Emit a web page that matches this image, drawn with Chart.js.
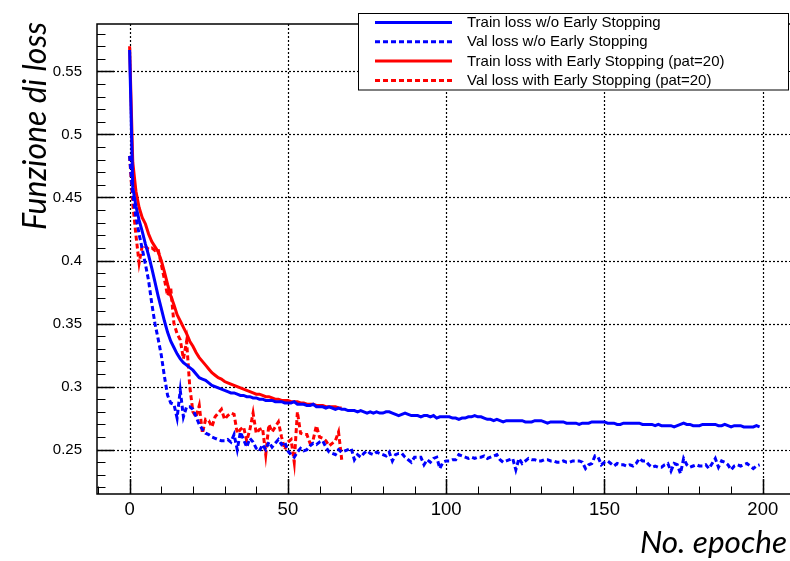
<!DOCTYPE html>
<html>
<head>
<meta charset="utf-8">
<script src="https://cdn.jsdelivr.net/npm/chart.js@4.4.1/dist/chart.umd.min.js"></script>
<style>
  html, body { margin: 0; padding: 0; background: #fff; }
</style>
</head>
<body>
<canvas id="chart1" width="790" height="561"></canvas>
<script>
// loss per epoch
const trainNoES = [
  0.567, 0.458, 0.443, 0.432, 0.423, 0.413, 0.404, 0.394, 0.383, 0.372,
  0.362, 0.352, 0.343, 0.336, 0.331, 0.326, 0.322, 0.319, 0.317, 0.315,
  0.313, 0.310, 0.307, 0.306, 0.305, 0.303, 0.301, 0.300, 0.299, 0.298,
  0.297, 0.296, 0.295, 0.295, 0.294, 0.293, 0.293, 0.292, 0.292, 0.291,
  0.291, 0.290, 0.290, 0.289, 0.289, 0.289, 0.288, 0.288, 0.288, 0.287,
  0.287, 0.287, 0.288, 0.286, 0.286, 0.286, 0.285, 0.285, 0.286, 0.284,
  0.284, 0.284, 0.283, 0.284, 0.283, 0.282, 0.283, 0.282, 0.282, 0.281,
  0.281, 0.281, 0.280, 0.281, 0.280, 0.279, 0.280, 0.279, 0.280, 0.279,
  0.279, 0.280, 0.280, 0.279, 0.278, 0.277, 0.278, 0.279, 0.278, 0.277,
  0.277, 0.277, 0.276, 0.277, 0.277, 0.276, 0.277, 0.275, 0.276, 0.276,
  0.276, 0.276, 0.275, 0.275, 0.274, 0.275, 0.275, 0.276, 0.276, 0.277,
  0.276, 0.276, 0.275, 0.274, 0.274, 0.273, 0.274, 0.273, 0.272, 0.273,
  0.273, 0.273, 0.273, 0.273, 0.273, 0.272, 0.272, 0.272, 0.273, 0.273,
  0.273, 0.272, 0.271, 0.272, 0.272, 0.272, 0.272, 0.272, 0.271, 0.271,
  0.271, 0.271, 0.270, 0.271, 0.271, 0.271, 0.272, 0.272, 0.272, 0.272,
  0.272, 0.271, 0.271, 0.271, 0.270, 0.270, 0.271, 0.271, 0.271, 0.271,
  0.271, 0.271, 0.270, 0.270, 0.270, 0.270, 0.269, 0.270, 0.269, 0.269,
  0.269, 0.269, 0.268, 0.269, 0.270, 0.271, 0.270, 0.270, 0.269, 0.269,
  0.269, 0.270, 0.270, 0.270, 0.270, 0.270, 0.269, 0.269, 0.270, 0.269,
  0.268, 0.269, 0.269, 0.269, 0.268, 0.268, 0.268, 0.268, 0.269, 0.268
];
const valNoES = [
  0.483, 0.452, 0.435, 0.421, 0.409, 0.397, 0.384, 0.366, 0.350, 0.338,
  0.325, 0.308, 0.293, 0.287, 0.286, 0.275, 0.297, 0.276, 0.284, 0.284,
  0.282, 0.276, 0.270, 0.266, 0.263, 0.262, 0.260, 0.259, 0.258, 0.257,
  0.257, 0.258, 0.256, 0.262, 0.250, 0.264, 0.258, 0.252, 0.259, 0.256,
  0.251, 0.249, 0.254, 0.250, 0.256, 0.252, 0.255, 0.258, 0.254, 0.256,
  0.249, 0.246, 0.244, 0.248, 0.251, 0.249, 0.250, 0.253, 0.255, 0.254,
  0.256, 0.257, 0.252, 0.248, 0.247, 0.246, 0.250, 0.248, 0.249, 0.250,
  0.251, 0.242, 0.246, 0.244, 0.247, 0.249, 0.247, 0.246, 0.248, 0.247,
  0.246, 0.245, 0.248, 0.241, 0.246, 0.247, 0.247, 0.244, 0.242, 0.240,
  0.244, 0.244, 0.244, 0.238, 0.242, 0.240, 0.243, 0.244, 0.235, 0.240,
  0.241, 0.241, 0.242, 0.242, 0.246, 0.245, 0.244, 0.243, 0.244, 0.243,
  0.244, 0.244, 0.245, 0.243, 0.244, 0.245, 0.246, 0.242, 0.240, 0.241,
  0.242, 0.243, 0.234, 0.243, 0.239, 0.241, 0.243, 0.242, 0.242, 0.241,
  0.241, 0.242, 0.242, 0.241, 0.241, 0.240, 0.240, 0.241, 0.240, 0.240,
  0.241, 0.241, 0.241, 0.240, 0.235, 0.238, 0.239, 0.245, 0.244, 0.238,
  0.240, 0.241, 0.239, 0.237, 0.239, 0.238, 0.238, 0.237, 0.238, 0.237,
  0.239, 0.243, 0.241, 0.241, 0.238, 0.236, 0.237, 0.236, 0.236, 0.238,
  0.239, 0.233, 0.239, 0.238, 0.231, 0.243, 0.238, 0.236, 0.237, 0.238,
  0.237, 0.237, 0.238, 0.235, 0.239, 0.243, 0.236, 0.241, 0.240, 0.238,
  0.234, 0.237, 0.238, 0.237, 0.238, 0.239, 0.237, 0.235, 0.237, 0.238
];
const trainES = [
  0.570, 0.478, 0.455, 0.442, 0.434, 0.429, 0.421, 0.415, 0.411, 0.407,
  0.400, 0.391, 0.381, 0.372, 0.365, 0.357, 0.352, 0.347, 0.342, 0.336,
  0.332, 0.327, 0.323, 0.320, 0.317, 0.314, 0.311, 0.309, 0.307, 0.306,
  0.304, 0.303, 0.302, 0.301, 0.300, 0.299, 0.298, 0.297, 0.296, 0.295,
  0.294, 0.294, 0.293, 0.292, 0.292, 0.291, 0.290, 0.290, 0.289, 0.289,
  0.289, 0.288, 0.288, 0.288, 0.287, 0.287, 0.286, 0.286, 0.286, 0.285,
  0.285, 0.285, 0.284, 0.284, 0.284, 0.284, 0.283, 0.283
];
const valES = [
  0.483, 0.445, 0.420, 0.398, 0.412, 0.411, 0.409, 0.410, 0.408, 0.409,
  0.397, 0.385, 0.372, 0.378, 0.350, 0.342, 0.337, 0.322, 0.336, 0.300,
  0.280, 0.276, 0.285, 0.263, 0.274, 0.273, 0.268, 0.276, 0.279, 0.282,
  0.274, 0.277, 0.279, 0.278, 0.263, 0.266, 0.268, 0.257, 0.266, 0.279,
  0.263, 0.266, 0.267, 0.246, 0.270, 0.264, 0.268, 0.272, 0.260, 0.250,
  0.256, 0.258, 0.240, 0.280, 0.263, 0.262, 0.262, 0.255, 0.258, 0.269,
  0.260, 0.259, 0.257, 0.253, 0.255, 0.257, 0.264, 0.242
];
const seriesNames = [
  "Train loss w/o Early Stopping",
  "Val loss w/o Early Stopping",
  "Train loss with Early Stopping (pat=20)",
  "Val loss with Early Stopping (pat=20)"
];
const xTicks = [0, 50, 100, 150, 200];
const yTicks = [0.25, 0.3, 0.35, 0.4, 0.45, 0.5, 0.55];
const xTitle = "No. epoche";
const yTitle = "Funzione di loss";

function toPoints(vals) {
  return vals.map((v, i) => ({ x: i, y: v }));
}

const dashed = [5, 3];

const framePlugin = {
  id: 'rootFrame',
  beforeDatasetsDraw(chart) {
    const { ctx, chartArea: a, scales: { x, y } } = chart;
    ctx.save();
    ctx.strokeStyle = '#000';
    ctx.lineWidth = 1.2;
    ctx.setLineDash([2, 2]);
    xTicks.forEach(v => {
      const px = Math.round(x.getPixelForValue(v)) + 0.5;
      ctx.beginPath(); ctx.moveTo(px, a.top); ctx.lineTo(px, a.bottom); ctx.stroke();
    });
    yTicks.forEach(v => {
      const py = Math.round(y.getPixelForValue(v)) + 0.5;
      ctx.beginPath(); ctx.moveTo(a.left, py); ctx.lineTo(a.right, py); ctx.stroke();
    });
    ctx.restore();
  },
  afterDatasetsDraw(chart) {
    const { ctx, chartArea: a, scales: { x, y } } = chart;
    ctx.save();
    ctx.strokeStyle = '#000';
    ctx.setLineDash([]);

    // ticks, drawn inward like ROOT
    for (let k = -1; k <= 21; k++) {
      const v = k * 10;
      if (v < x.min || v > x.max) continue;
      const px = Math.round(x.getPixelForValue(v)) + 0.5;
      const major = v % 50 === 0;
      ctx.lineWidth = major ? 1.5 : 1;
      ctx.beginPath(); ctx.moveTo(px, a.bottom); ctx.lineTo(px, a.bottom - (major ? 15 : 7.5)); ctx.stroke();
    }
    for (let k = 21; k <= 59; k++) {
      const v = k / 100;
      if (v < y.min || v > y.max) continue;
      const py = Math.round(y.getPixelForValue(v)) + 0.5;
      const major = k % 5 === 0;
      ctx.lineWidth = major ? 1.5 : 1;
      ctx.beginPath(); ctx.moveTo(a.left, py); ctx.lineTo(a.left + (major ? 17 : 8.5), py); ctx.stroke();
    }

    // frame
    ctx.lineWidth = 1.5;
    ctx.beginPath();
    ctx.moveTo(a.right, a.top); ctx.lineTo(a.left, a.top);
    ctx.lineTo(a.left, a.bottom); ctx.lineTo(a.right, a.bottom);
    ctx.stroke();

    // legend
    const lx = 358.5, ly = 13.5, lw = 430, lh = 76.5;
    ctx.fillStyle = '#fff';
    ctx.fillRect(lx, ly, lw, lh);
    ctx.lineWidth = 1;
    ctx.strokeRect(lx, ly, lw, lh);
    ctx.font = '15px "Liberation Sans", Arial, sans-serif';
    ctx.textBaseline = 'middle';
    ctx.textAlign = 'left';
    chart.data.datasets.forEach((ds, i) => {
      const ry = 22.5 + i * 19.3;
      ctx.strokeStyle = ds.borderColor;
      ctx.lineWidth = 3;
      ctx.setLineDash(ds.borderDash || []);
      ctx.beginPath(); ctx.moveTo(375, ry); ctx.lineTo(452, ry); ctx.stroke();
      ctx.fillStyle = '#000';
      ctx.fillText(ds.label, 467, ry + 0.5);
    });
    ctx.setLineDash([]);

    // axis titles
    ctx.fillStyle = '#000';
    ctx.font = 'italic 30px Lato, "Open Sans", sans-serif';
    let w = ctx.measureText(xTitle).width;
    let fs = 30 * 147 / w;
    ctx.font = 'italic ' + fs.toFixed(1) + 'px Lato, "Open Sans", sans-serif';
    ctx.textAlign = 'right';
    ctx.textBaseline = 'alphabetic';
    ctx.fillText(xTitle, 787, 553);

    ctx.font = 'italic 30px Lato, "Open Sans", sans-serif';
    w = ctx.measureText(yTitle).width;
    fs = 30 * 208 / w;
    ctx.font = 'italic ' + fs.toFixed(1) + 'px Lato, "Open Sans", sans-serif';
    ctx.translate(46, 22);
    ctx.rotate(-Math.PI / 2);
    ctx.textAlign = 'right';
    ctx.fillText(yTitle, 0, 0);
    ctx.restore();
  }
};

const chart = new Chart(document.getElementById('chart1'), {
  type: 'line',
  data: {
    datasets: [
      { label: seriesNames[0], data: toPoints(trainNoES), borderColor: '#0000ff', borderWidth: 3 },
      { label: seriesNames[1], data: toPoints(valNoES), borderColor: '#0000ff', borderWidth: 3, borderDash: dashed },
      { label: seriesNames[2], data: toPoints(trainES), borderColor: '#ff0000', borderWidth: 3 },
      { label: seriesNames[3], data: toPoints(valES), borderColor: '#ff0000', borderWidth: 3, borderDash: dashed }
    ]
  },
  options: {
    responsive: false,
    animation: false,
    events: [],
    layout: { padding: { top: 13, left: 0, right: 0, bottom: 0 } },
    elements: {
      point: { radius: 0 },
      line: { tension: 0, borderJoinStyle: 'miter', fill: false }
    },
    plugins: { legend: { display: false }, tooltip: { enabled: false } },
    scales: {
      x: {
        type: 'linear',
        min: -10.3,
        max: 208.6,
        grid: { display: false, drawTicks: false },
        border: { display: false },
        afterBuildTicks: s => { s.ticks = xTicks.map(v => ({ value: v })); },
        afterFit: s => { s.height = 67; },
        ticks: {
          color: '#000',
          padding: 5,
          maxRotation: 0,
          font: { family: '"Liberation Sans", Arial, sans-serif', size: 18.5 }
        }
      },
      y: {
        min: 0.2148,
        max: 0.5876,
        grid: { display: false, drawTicks: false },
        border: { display: false },
        afterBuildTicks: s => { s.ticks = yTicks.map(v => ({ value: v })); },
        afterFit: s => { s.width = 97; },
        ticks: {
          color: '#000',
          padding: 15,
          font: { family: '"Liberation Sans", Arial, sans-serif', size: 15 },
          callback: v => String(Math.round(v * 100) / 100)
        }
      }
    }
  },
  plugins: [framePlugin]
});
</script>
</body>
</html>
